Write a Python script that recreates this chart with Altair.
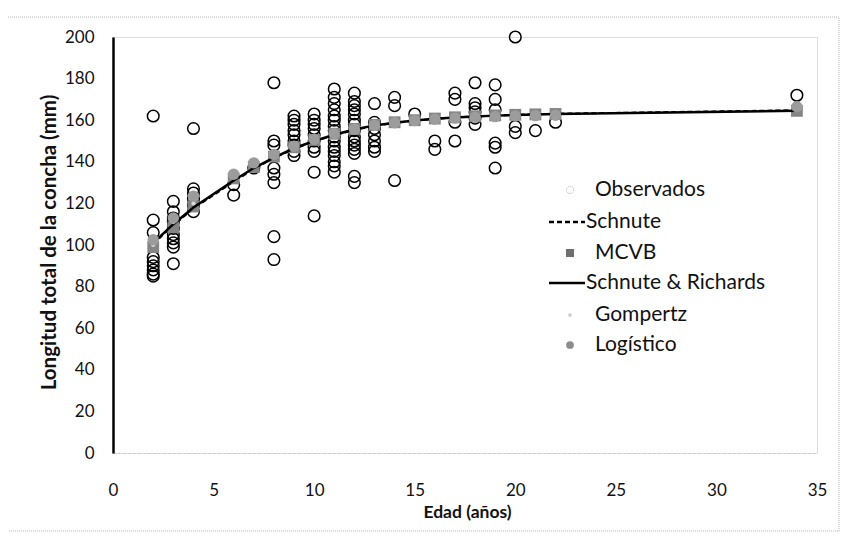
import altair as alt
import pandas as pd

# ---------------- data ----------------
obs_age = ([2] * 9 + [3] * 10 + [4] * 6 + [6] * 2 + [7] + [8] * 8 + [9] * 9 + [10] * 10 +
           [11] * 16 + [12] * 15 + [13] * 7 + [14] * 3 + [15] + [16] * 2 + [17] * 4 +
           [18] * 6 + [19] * 6 + [20] * 3 + [21] + [22] + [34])
obs_len = [162, 112, 106, 94, 92, 90, 88, 86, 85,
           121, 116, 113, 111, 108, 105, 103, 101, 99, 91,
           156, 127, 125, 122, 119, 116,
           129, 124,
           137,
           178, 150, 148, 137, 134, 130, 104, 93,
           162, 160, 158, 155, 153, 150, 148, 145, 143,
           163, 160, 158, 156, 153, 150, 147, 145, 135, 114,
           175, 171, 168, 165, 162, 160, 157, 155, 152, 150, 147, 145, 143, 140, 138, 135,
           173, 169, 167, 165, 163, 160, 158, 155, 152, 150, 148, 146, 144, 133, 130,
           168, 159, 156, 153, 150, 147, 145,
           171, 167, 131,
           163,
           150, 146,
           173, 170, 159, 150,
           178, 168, 166, 164, 161, 158,
           177, 170, 165, 149, 147, 137,
           200, 157, 154,
           155,
           159,
           172]

mod_age = [2, 3, 4, 6, 7, 8, 9, 10, 11, 12, 13, 14, 15, 16, 17, 18, 19, 20, 21, 22, 34]
schnute = [100.5, 109.5, 117.5, 130.5, 136.5, 141.8, 146.2, 149.8, 152.8, 155.3, 157.3,
           158.7, 159.8, 160.6, 161.3, 161.8, 162.2, 162.6, 162.9, 163.1, 164.8]
mcvb = [99, 108.5, 118.5, 132, 137.5, 142.5, 147, 150.5, 153.5, 155.8, 157.7,
        159, 160, 160.8, 161.4, 161.9, 162.3, 162.6, 162.8, 163, 164.5]
schnute_richards = [101, 110, 118, 131, 137, 142, 146.5, 150, 153, 155.5, 157.5,
                    158.8, 159.9, 160.7, 161.3, 161.8, 162.2, 162.5, 162.8, 163, 164.5]
gompertz = [100, 111, 120, 133, 138.5, 143, 147, 150.5, 153.3, 155.6, 157.5,
            158.9, 160, 160.8, 161.4, 161.8, 162.1, 162.4, 162.6, 162.8, 165]
logistico = [102.5, 113, 123.5, 134, 139.5, 143.5, 147.5, 150.8, 153.5, 155.7, 157.5,
             158.8, 159.8, 160.5, 161, 161.4, 161.7, 162, 162.2, 162.4, 166.5]

legend_labels = ["Observados", "Schnute", "MCVB", "Schnute & Richards", "Gompertz", "Logístico"]
x_ticks = [0, 5, 10, 15, 20, 25, 30, 35]
y_ticks = [0, 20, 40, 60, 80, 100, 120, 140, 160, 180, 200]

x_title = "Edad (años)"
y_title = "Longitud total de la concha (mm)"

# ---------------- tables ----------------
obs_df = pd.DataFrame({"edad": obs_age, "longitud": obs_len})
mod_df = pd.DataFrame({"edad": mod_age, "Schnute": schnute, "MCVB": mcvb,
                       "SR": schnute_richards, "Gompertz": gompertz, "Logistico": logistico})

FONT = "Lato"
W, H = 704, 416

xscale = alt.Scale(domain=[0, 35], nice=False, zero=False)
yscale = alt.Scale(domain=[0, 200], nice=False)

x_axis = alt.Axis(values=x_ticks, title=x_title, grid=False, ticks=False,
                  domainColor="#c4c4c4", domainDash=[2, 3], domainWidth=1,
                  labelFont=FONT, labelFontSize=17, labelColor="#111111",
                  labelPadding=29, labelFlush=False,
                  titleFont=FONT, titleFontSize=17.5, titleFontWeight="bold",
                  titleColor="#111111", titleX=354, titleY=59,
                  titleBaseline="middle", titleAlign="center")

y_axis = alt.Axis(values=y_ticks, title=y_title, grid=False, ticks=False,
                  domainColor="#000000", domainWidth=2.5,
                  labelFont=FONT, labelFontSize=17, labelColor="#111111",
                  labelPadding=19, labelFlush=False,
                  titleFont=FONT, titleFontSize=20.5, titleFontWeight="bold",
                  titleColor="#111111", titleX=-64, titleY=205, titleAngle=-90,
                  titleBaseline="middle", titleAlign="center")


def X():
    return alt.X("edad:Q", scale=xscale, axis=x_axis)


def Y(field):
    return alt.Y(f"{field}:Q", scale=yscale, axis=y_axis)


base_mod = alt.Chart(mod_df)

obs_layer = alt.Chart(obs_df).mark_point(shape="circle", size=135, filled=False,
                                          stroke="#000000", strokeWidth=1.5, opacity=1).encode(
    x=X(), y=Y("longitud"))

schnute_layer = base_mod.mark_line(color="#000000", strokeWidth=2, strokeDash=[5, 3]).encode(
    x=X(), y=Y("Schnute"))

mcvb_layer = base_mod.mark_point(shape="square", size=140, filled=True, color="#858585",
                                 opacity=1).encode(x=X(), y=Y("MCVB"))

sr_layer = base_mod.mark_line(color="#000000", strokeWidth=2.5).encode(x=X(), y=Y("SR"))

gomp_layer = base_mod.mark_point(shape="circle", size=18, filled=True, color="#d9d9d9",
                                 opacity=1).encode(x=X(), y=Y("Gompertz"))

log_layer = base_mod.mark_point(shape="circle", size=130, filled=True, color="#9c9c9c",
                                opacity=1).encode(x=X(), y=Y("Logistico"))

# ---------------- frame (decoration) ----------------
frame = alt.Chart(pd.DataFrame({"k": [0]})).mark_rect(
    fill=None, stroke="#b5b5b5", strokeWidth=1, strokeDash=[1, 1]).encode(
    x=alt.value(-107), x2=alt.value(726), y=alt.value(-20), y2=alt.value(494))

# ---------------- manual legend ----------------
def one(label):
    return alt.Chart(pd.DataFrame({"t": [label]}))


LX_SYM = 457
LX_TXT = 482
LX_TXT_LINE = 473
leg_y = [153, 185, 216, 246, 278, 308]

leg_layers = []
for i, lab in enumerate(legend_labels):
    tx = LX_TXT_LINE if lab in ("Schnute", "Schnute & Richards") else LX_TXT
    leg_layers.append(one(lab).mark_text(font=FONT, fontSize=21, align="left",
                                         baseline="middle", color="#111111").encode(
        text="t:N", x=alt.value(tx), y=alt.value(leg_y[i])))

leg_layers.append(one("o").mark_point(shape="circle", size=50, filled=False, stroke="#8a8a8a",
                                      strokeWidth=1, strokeDash=[1, 1]).encode(
    x=alt.value(LX_SYM), y=alt.value(leg_y[0])))
leg_layers.append(one("s").mark_rule(color="#000000", strokeWidth=2.5, strokeDash=[5, 3]).encode(
    x=alt.value(436), x2=alt.value(472), y=alt.value(leg_y[1])))
leg_layers.append(one("m").mark_point(shape="square", size=64, filled=True, color="#6e6e6e",
                                      opacity=1).encode(
    x=alt.value(LX_SYM), y=alt.value(leg_y[2])))
leg_layers.append(one("r").mark_rule(color="#000000", strokeWidth=2.5).encode(
    x=alt.value(436), x2=alt.value(472), y=alt.value(leg_y[3])))
leg_layers.append(one("g").mark_point(shape="circle", size=14, filled=True, color="#cccccc",
                                      opacity=1).encode(
    x=alt.value(LX_SYM), y=alt.value(leg_y[4])))
leg_layers.append(one("l").mark_point(shape="circle", size=60, filled=True, color="#8c8c8c",
                                      opacity=1).encode(
    x=alt.value(LX_SYM), y=alt.value(leg_y[5])))

chart = alt.layer(frame, obs_layer, schnute_layer, mcvb_layer, sr_layer, gomp_layer, log_layer,
                  *leg_layers).properties(
    width=W, height=H,
    autosize=alt.AutoSizeParams(type="none"),
    padding={"left": 105, "top": 29, "right": 25, "bottom": 79},
).configure_view(strokeWidth=0, stroke="transparent").configure(background="#ffffff")

chart.save("out.html", embed_options={"renderer": "svg", "actions": False})
